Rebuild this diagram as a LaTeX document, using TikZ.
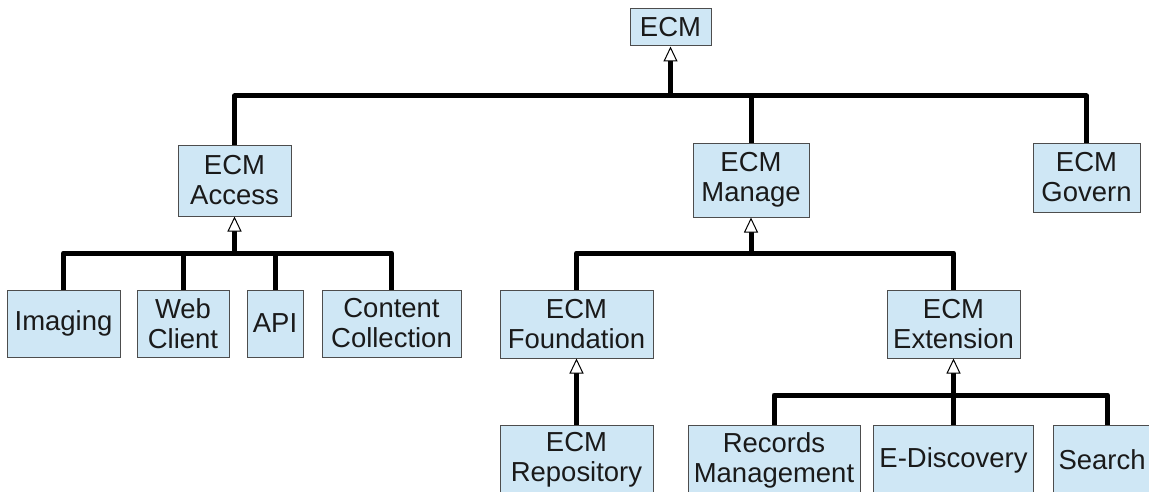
\documentclass[tikz,border=0pt]{standalone}
\usepackage{fontspec}
\setmainfont{Liberation Sans}
\usetikzlibrary{arrows.meta}
\definecolor{boxfill}{HTML}{CFE7F5}
\definecolor{boxline}{HTML}{4D4D4D}
\definecolor{txt}{HTML}{1A1A1A}
\begin{document}
\begin{tikzpicture}[x=0.75pt,y=-0.75pt,
  box/.style={draw=boxline, line width=0.75pt, fill=boxfill, text=txt, align=center, inner sep=0pt, font=\fontsize{20.6}{22.5}\selectfont},
  sz/.style 2 args={minimum width=#1*0.75pt, minimum height=#2*0.75pt},
  bus/.style={line width=3.75pt, line join=round},
  inh/.style={bus, -{Triangle[open, fill=white, length=11.25pt, width=10.5pt, line width=0.75pt]}}]
\useasboundingbox (0,0) rectangle (1149,492);
\clip (0,0) rectangle (1149,492);
% nodes
\node[box, sz={81}{37}] (ecm) at (670.5,27.5) {ECM};
\node[box, sz={113}{71}] (access) at (234.5,180.5) {ECM\\Access};
\node[box, sz={116}{74}] (manage) at (751,180) {ECM\\Manage};
\node[box, sz={107}{69}] (govern) at (1086.5,177.5) {ECM\\Govern};
\node[box, sz={113}{67}] (imaging) at (63.5,323.5) {Imaging};
\node[box, sz={92}{67}] (web) at (183,323.5) {Web\\Client};
\node[box, sz={56}{67}] (api) at (275,323.5) {API};
\node[box, sz={139}{67}] (content) at (391.5,323.5) {Content\\Collection};
\node[box, sz={153}{68}] (found) at (576.5,324) {ECM\\Foundation};
\node[box, sz={133}{68}] (ext) at (953.5,324) {ECM\\Extension};
\node[box, sz={153}{70}] (repo) at (576.5,460) {ECM\\Repository};
\node[box, sz={172}{70}] (records) at (774,460) {Records\\Management};
\node[box, sz={160}{70}] (edisc) at (953.5,460) {E-Discovery};
\node[box, sz={108}{70}, anchor=west, align=left, text width=98*0.75pt] (search) at (1053,460) {Search};
% top level
\coordinate (top) at (670.5,96);
\draw[bus] (access.north) -- (access.north |- top) -- (govern.north |- top) -- (govern.north);
\draw[bus] (manage.north) -- (manage.north |- top);
\draw[inh] (top) -- (ecm.south);
% access
\coordinate (ja) at (234.5,253);
\draw[bus] (imaging.north) -- (imaging.north |- ja) -- (content.north |- ja) -- (content.north);
\draw[bus] (web.north) -- (web.north |- ja);
\draw[bus] (api.north) -- (api.north |- ja);
\draw[inh] (ja) -- (access.south);
% manage
\coordinate (jm) at (751,253);
\draw[bus] (found.north) -- (found.north |- jm) -- (ext.north |- jm) -- (ext.north);
\draw[inh] (jm) -- (manage.south);
% foundation
\draw[inh] (repo.north) -- (found.south);
% extension
\coordinate (je) at (953.5,395);
\draw[bus] (records.north) -- (records.north |- je) -- (search.north |- je) -- (search.north);
\draw[inh] (edisc.north) -- (ext.south);
\end{tikzpicture}
\end{document}
